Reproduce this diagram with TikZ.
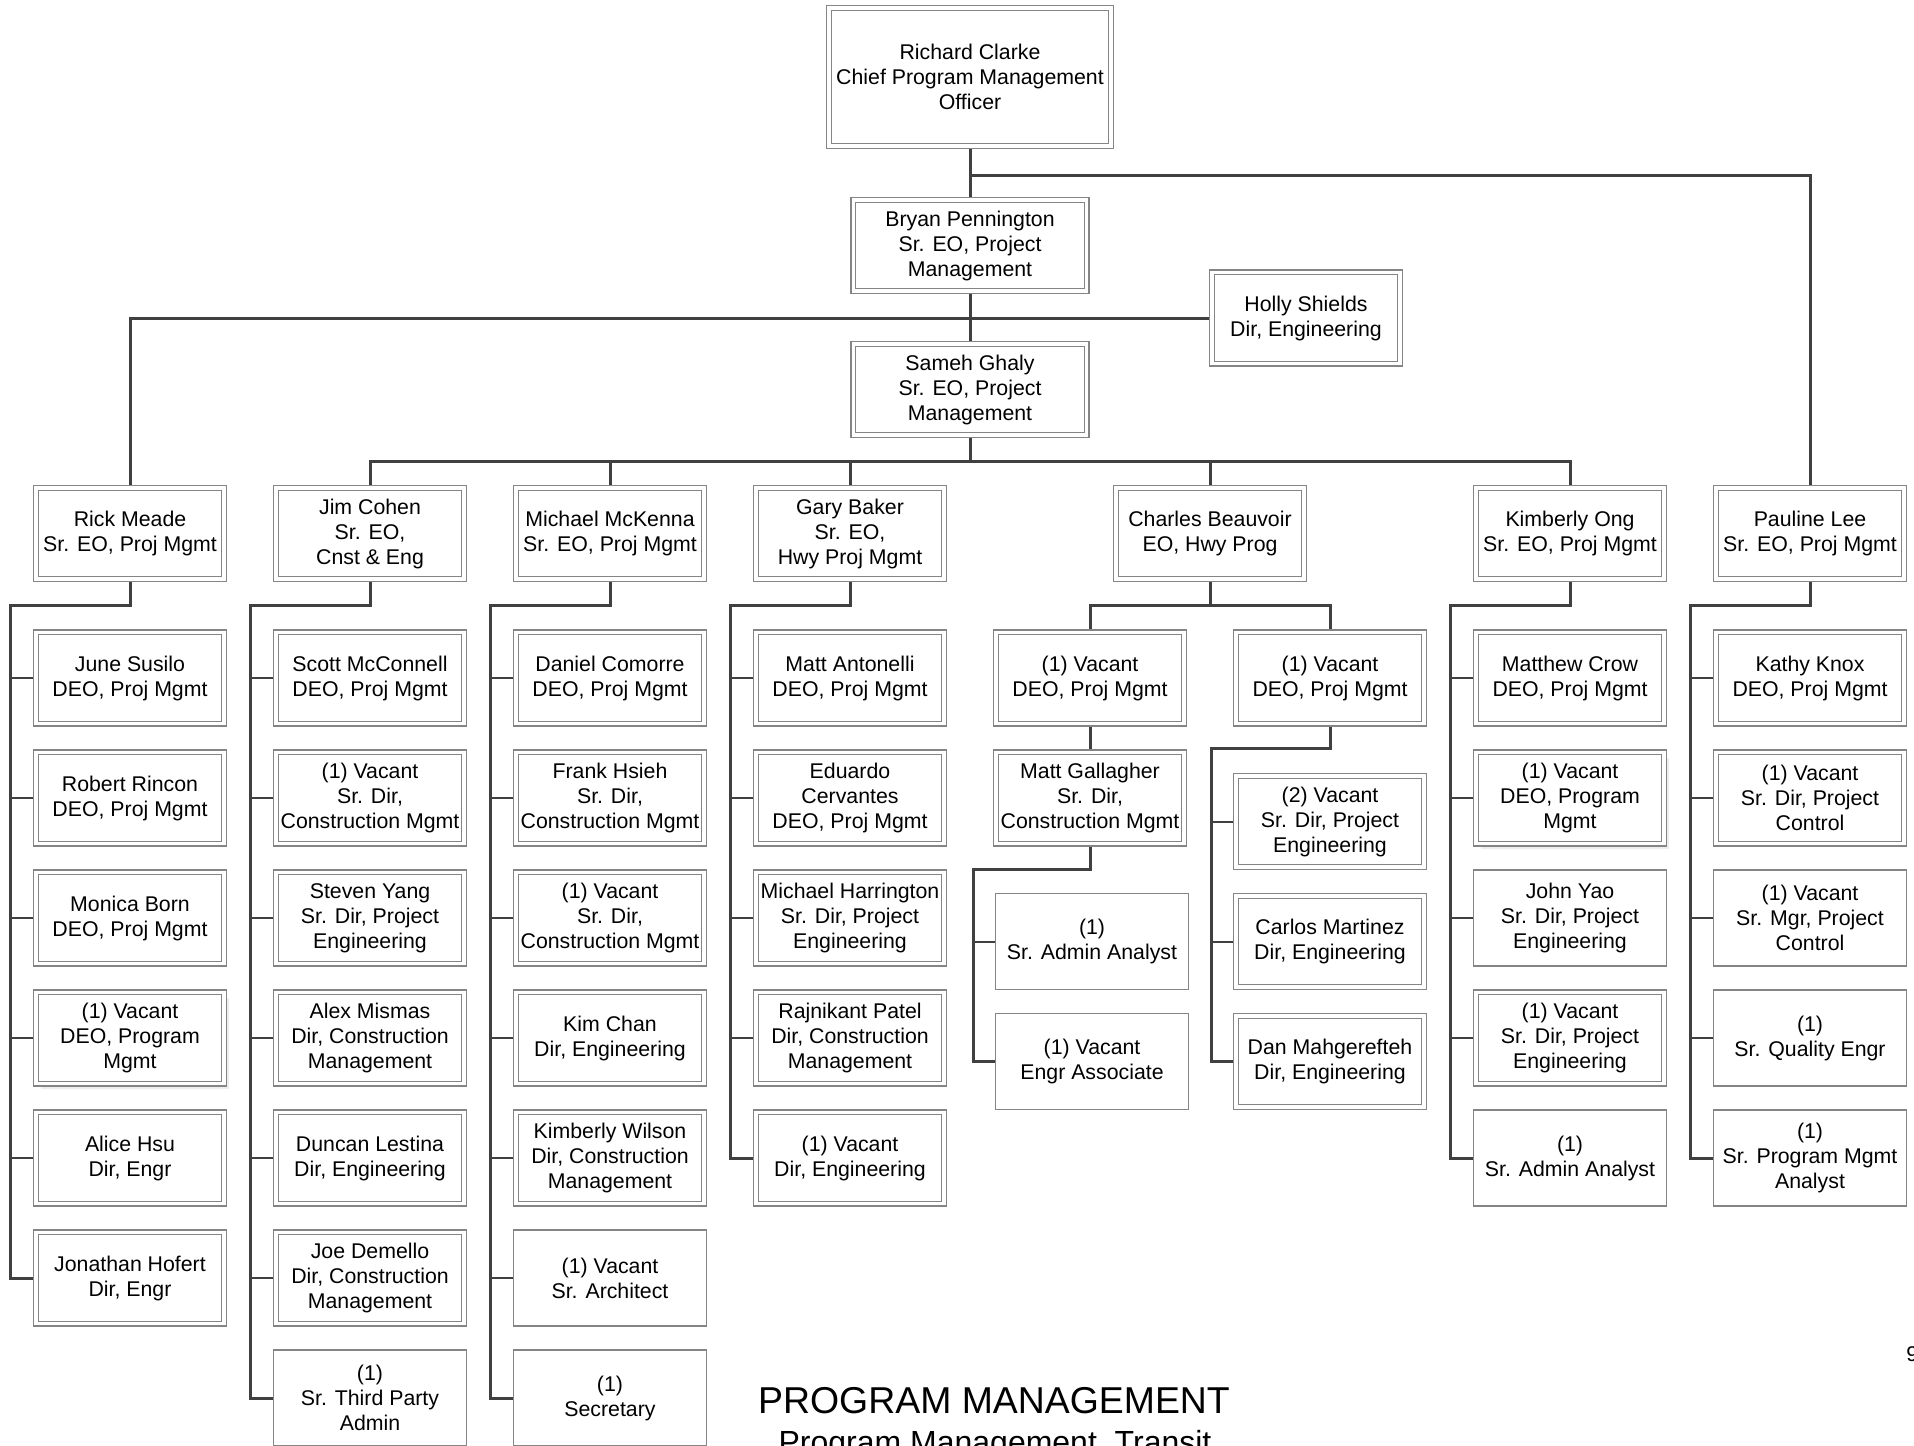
\documentclass[tikz,border=0pt]{standalone}
\usepackage{fontspec}
\setmainfont{Liberation Sans}
\usetikzlibrary{backgrounds,shadows}
\definecolor{boxgray}{HTML}{858585}
\definecolor{linegray}{HTML}{404040}
\newcommand\boxfont{\fontsize{10.65}{12.5}\selectfont}

\begin{document}
\begin{tikzpicture}[x=0.5pt, y=-0.5pt,
  box/.style={rectangle, align=center, inner sep=1pt, font=\boxfont, fill=white},
  dbox/.style={box, draw=boxgray, line width=0.6pt, double=white, double distance=1.75pt,
    minimum width=94.2pt, minimum height=45.7pt},
  sbox/.style={box, draw=boxgray, line width=0.6pt, minimum width=96.5pt, minimum height=48pt},
  shbox/.style={dbox, drop shadow={shadow xshift=2.6pt, shadow yshift=-2.6pt, fill=black!13}},
  trunk/.style={draw=linegray, line width=1.5pt},
  stub/.style={draw=linegray, line width=1pt}]
  \useasboundingbox (0,0) rectangle (1914,1445);

  % top of the chart
  \node[dbox, minimum width=141.2pt, minimum height=69.2pt] (clarke) at (970,77)
    {Richard Clarke\\Chief Program Management\\Officer};
  \node[dbox, minimum width=116.7pt] (penn) at (970,245.5) {Bryan Pennington\\Sr. EO, Project\\Management};
  \node[dbox, minimum width=116.7pt] (ghaly) at (970,389.5) {Sameh Ghaly\\Sr. EO, Project\\Management};
  \node[dbox] (holly) at (1306,318) {Holly Shields\\Dir, Engineering};

  % executive officers
  \foreach \id/\x/\t in {rick/130/{Rick Meade\\Sr. EO, Proj Mgmt}, jim/370/{Jim Cohen\\Sr. EO,\\Cnst \& Eng},
      mick/610/{Michael McKenna\\Sr. EO, Proj Mgmt}, gary/850/{Gary Baker\\Sr. EO,\\Hwy Proj Mgmt},
      charles/1210/{Charles Beauvoir\\EO, Hwy Prog}, kong/1570/{Kimberly Ong\\Sr. EO, Proj Mgmt},
      paul/1810/{Pauline Lee\\Sr. EO, Proj Mgmt}}
    \node[dbox] (\id) at (\x,533.5) {\t};

  % staff columns
  \foreach \k/\s/\t in {1/dbox/{June Susilo\\DEO, Proj Mgmt}, 2/dbox/{Robert Rincon\\DEO, Proj Mgmt},
      3/dbox/{Monica Born\\DEO, Proj Mgmt}, 4/shbox/{(1) Vacant\\DEO, Program\\Mgmt},
      5/dbox/{Alice Hsu\\Dir, Engr}, 6/dbox/{Jonathan Hofert\\Dir, Engr}}
    \node[\s] (rick\k) at (130,{558+120*\k}) {\t};
  \foreach \k/\s/\t in {1/dbox/{Scott McConnell\\DEO, Proj Mgmt}, 2/dbox/{(1) Vacant\\Sr. Dir,\\Construction Mgmt},
      3/dbox/{Steven Yang\\Sr. Dir, Project\\Engineering}, 4/dbox/{Alex Mismas\\Dir, Construction\\Management},
      5/dbox/{Duncan Lestina\\Dir, Engineering}, 6/dbox/{Joe Demello\\Dir, Construction\\Management},
      7/sbox/{(1)\\Sr. Third Party\\Admin}}
    \node[\s] (jim\k) at (370,{558+120*\k}) {\t};
  \foreach \k/\s/\t in {1/dbox/{Daniel Comorre\\DEO, Proj Mgmt}, 2/dbox/{Frank Hsieh\\Sr. Dir,\\Construction Mgmt},
      3/dbox/{(1) Vacant\\Sr. Dir,\\Construction Mgmt}, 4/dbox/{Kim Chan\\Dir, Engineering},
      5/dbox/{Kimberly Wilson\\Dir, Construction\\Management}, 6/sbox/{(1) Vacant\\Sr. Architect},
      7/sbox/{(1)\\Secretary}}
    \node[\s] (mick\k) at (610,{558+120*\k}) {\t};
  \foreach \k/\s/\t in {1/dbox/{Matt Antonelli\\DEO, Proj Mgmt}, 2/dbox/{Eduardo\\Cervantes\\DEO, Proj Mgmt},
      3/dbox/{Michael Harrington\\Sr. Dir, Project\\Engineering}, 4/dbox/{Rajnikant Patel\\Dir, Construction\\Management},
      5/dbox/{(1) Vacant\\Dir, Engineering}}
    \node[\s] (gary\k) at (850,{558+120*\k}) {\t};
  \foreach \k/\s/\t in {1/dbox/{Matthew Crow\\DEO, Proj Mgmt}, 2/shbox/{(1) Vacant\\DEO, Program\\Mgmt},
      3/sbox/{John Yao\\Sr. Dir, Project\\Engineering}, 4/dbox/{(1) Vacant\\Sr. Dir, Project\\Engineering},
      5/sbox/{(1)\\Sr. Admin Analyst}}
    \node[\s] (kong\k) at (1570,{558+120*\k}) {\t};
  \foreach \k/\s/\t in {1/dbox/{Kathy Knox\\DEO, Proj Mgmt}, 2/dbox/{(1) Vacant\\Sr. Dir, Project\\Control},
      3/sbox/{(1) Vacant\\Sr. Mgr, Project\\Control}, 4/sbox/{(1)\\Sr. Quality Engr},
      5/sbox/{(1)\\Sr. Program Mgmt\\Analyst}}
    \node[\s] (paul\k) at (1810,{558+120*\k}) {\t};

  % Charles Beauvoir's two branches
  \node[dbox] (cl1) at (1090,678) {(1) Vacant\\DEO, Proj Mgmt};
  \node[dbox] (cl2) at (1090,798) {Matt Gallagher\\Sr. Dir,\\Construction Mgmt};
  \node[sbox] (cl3) at (1092,941.5) {(1)\\Sr. Admin Analyst};
  \node[sbox] (cl4) at (1092,1061.5) {(1) Vacant\\Engr Associate};
  \node[dbox] (cr1) at (1330,678) {(1) Vacant\\DEO, Proj Mgmt};
  \node[dbox] (cr2) at (1330,821.5) {(2) Vacant\\Sr. Dir, Project\\Engineering};
  \node[dbox] (cr3) at (1330,941.5) {Carlos Martinez\\Dir, Engineering};
  \node[dbox] (cr4) at (1330,1061.5) {Dan Mahgerefteh\\Dir, Engineering};

  % title
  \node[font=\fontsize{18.7}{22}\selectfont, anchor=base] (title) at (994,1413) {PROGRAM MANAGEMENT};
  \node[font=\fontsize{16}{19}\selectfont, anchor=base] (subtitle) at (995,1453) {Program Management, Transit};
  \node[font=\boxfont, anchor=base west, inner sep=0pt] (pagenum) at (1906,1361) {9};

  % connectors
  \coordinate (cbr) at (970,175);
  \coordinate (gbus) at (970,461);
  \foreach \id/\x in {rick/10, jim/250, mick/490, gary/730, kong/1450, paul/1690}
    \coordinate (\id top) at (\x,605);
  \coordinate (chtop) at (1210,605);
  \coordinate (cltop) at (973,869);
  \coordinate (crtop) at (1211,748);
  \begin{pgfonlayer}{background}
    \draw[trunk] (clarke) -- (penn);
    \draw[trunk] (cbr) -| (paul.north);
    \draw[trunk] (penn) -- (ghaly);
    \draw[trunk] (rick.north) |- (holly.west);
    \draw[trunk] (ghaly.south) -- (gbus);
    \draw[trunk] (jim.north) |- (gbus) -| (kong.north);
    \foreach \id in {mick,gary,charles}
      \draw[trunk] (\id.north) -- (\id.north |- gbus);
    \foreach \id/\last in {rick/6, jim/7, mick/7, gary/5, kong/5, paul/5}{
      \draw[trunk] (\id.south) |- (\id top) |- (\id\last.west);
      \foreach \k in {1,...,\last}
        \draw[stub] (\id\k.west) -- (\id\k.west -| \id top);
    }
    \draw[trunk] (charles.south) -- (chtop);
    \draw[trunk] (cl1.north) |- (chtop) -| (cr1.north);
    \draw[trunk] (cl1.south) -- (cl2.north);
    \draw[trunk] (cl2.south) |- (cltop) |- (cl4.west);
    \draw[stub] (cl3.west) -- (cl3.west -| cltop);
    \draw[trunk] (cr1.south) |- (crtop) |- (cr4.west);
    \foreach \k in {2,3}
      \draw[stub] (cr\k.west) -- (cr\k.west -| crtop);
  \end{pgfonlayer}
\end{tikzpicture}
\end{document}
